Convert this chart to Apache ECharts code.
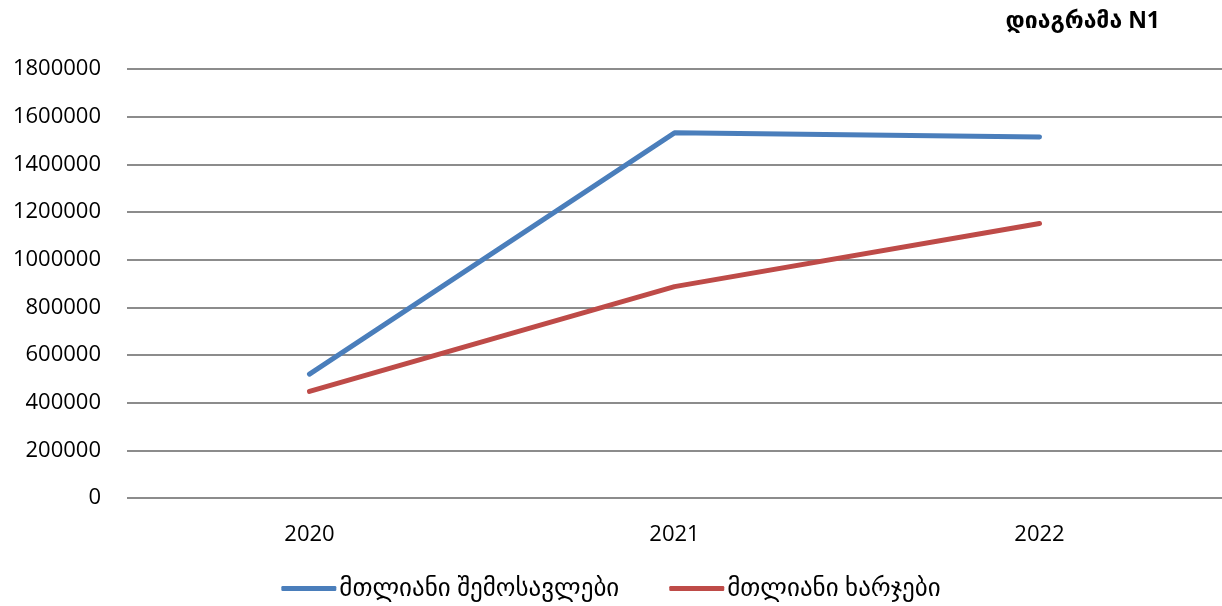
<!DOCTYPE html>
<html><head><meta charset="utf-8">
<script src="https://cdn.jsdelivr.net/npm/echarts@6/dist/echarts.min.js"></script>
<style>html,body{margin:0;padding:0;background:#fff}#c{width:1222px;height:606px}</style>
</head><body><div id="c"></div>
<script>
const categories = ['2020', '2021', '2022'];
const incomeName = 'მთლიანი შემოსავლები';
const expenseName = 'მთლიანი ხარჯები';
const incomeValues = [520000, 1532000, 1515000];
const expenseValues = [447000, 887000, 1152000];
const yTicks = { min: 0, max: 1800000, interval: 200000 };
const titleText = 'დიაგრამა N1';

const font = '"Open Sans", "DejaVu Sans", sans-serif';
const chart = echarts.init(document.getElementById('c'));
chart.setOption({
  animation: false,
  backgroundColor: '#fff',
  title: { text: titleText, right: 57, top: 5, textStyle: { fontFamily: font, fontSize: 23, fontWeight: 'bold', color: '#000' } },
  grid: { left: 127, right: 0, top: 69, bottom: 108, containLabel: false },
  legend: {
    top: 571, left: 'center', itemGap: 50, itemWidth: 55, itemHeight: 5,
    icon: 'roundRect',
    textStyle: { fontFamily: font, fontSize: 25, color: '#000', padding: [0, 0, 0, -2] },
    data: [incomeName, expenseName]
  },
  xAxis: {
    type: 'category', data: categories, boundaryGap: true,
    axisLine: { show: false }, axisTick: { show: false },
    axisLabel: { fontFamily: font, fontSize: 22, color: '#000', margin: 26 }
  },
  yAxis: {
    type: 'value', min: yTicks.min, max: yTicks.max, interval: yTicks.interval,
    axisLine: { show: false }, axisTick: { show: false },
    axisLabel: { fontFamily: font, fontSize: 22, color: '#000', margin: 26, formatter: v => String(v) },
    splitLine: { lineStyle: { color: '#8c8c8c', width: 2 } }
  },
  series: [
    { name: incomeName, type: 'line', data: incomeValues, symbol: 'none', lineStyle: { color: '#4a7ebb', width: 5, cap: 'round' }, itemStyle: { color: '#4a7ebb' } },
    { name: expenseName, type: 'line', data: expenseValues, symbol: 'none', lineStyle: { color: '#be4b48', width: 5, cap: 'round' }, itemStyle: { color: '#be4b48' } }
  ]
});
</script></body></html>
